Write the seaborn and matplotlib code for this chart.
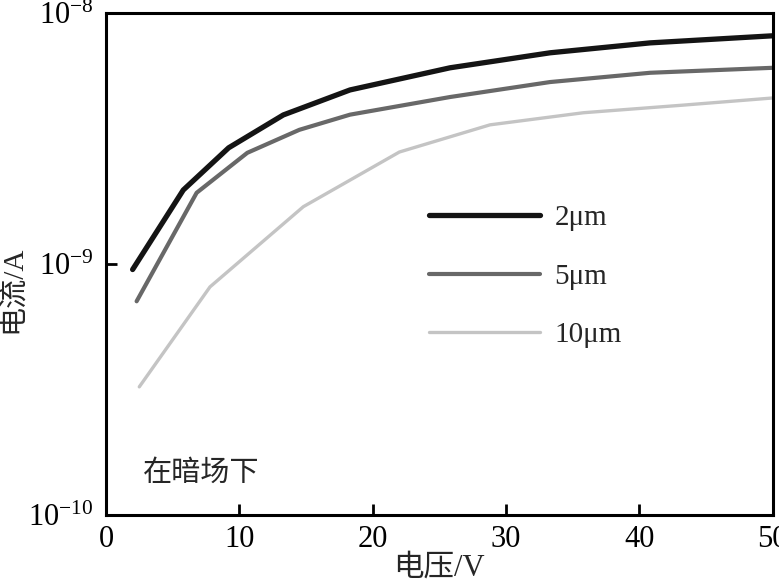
import numpy as np
import pandas as pd
import matplotlib
matplotlib.use("Agg")
import matplotlib.pyplot as plt
import seaborn as sns
from matplotlib.ticker import LogLocator, NullLocator, FixedLocator
from matplotlib.lines import Line2D

# ---- data ----
labels = ["2μm", "5μm", "10μm"]
v_2um = [2.0, 5.8, 9.2, 13.3, 18.3, 25.8, 33.3, 40.8, 50.0]
i_2um = [0.95e-9, 1.97e-9, 2.9e-9, 3.92e-9, 4.93e-9, 6.04e-9, 6.93e-9, 7.59e-9, 8.1e-9]
v_5um = [2.3, 6.8, 10.6, 14.5, 18.3, 25.8, 33.3, 40.8, 50.0]
i_5um = [0.71e-9, 1.92e-9, 2.77e-9, 3.42e-9, 3.93e-9, 4.62e-9, 5.3e-9, 5.77e-9, 6.04e-9]
v_10um = [2.5, 7.8, 14.8, 22.0, 28.8, 35.8, 43.3, 50.0]
i_10um = [0.324e-9, 0.81e-9, 1.69e-9, 2.79e-9, 3.58e-9, 4.0e-9, 4.29e-9, 4.58e-9]
x_ticks = [0, 10, 20, 30, 40, 50]
colors = ["#141414", "#686868", "#c4c4c4"]
widths = [3.8, 3.0, 2.4]

df = pd.concat([
    pd.DataFrame({"V": v_2um, "I": i_2um, "w": labels[0]}),
    pd.DataFrame({"V": v_5um, "I": i_5um, "w": labels[1]}),
    pd.DataFrame({"V": v_10um, "I": i_10um, "w": labels[2]}),
], ignore_index=True)

sns.set_style("ticks")
plt.rcParams["font.family"] = ["Liberation Serif", "Noto Sans CJK SC", "DejaVu Sans"]
plt.rcParams["mathtext.fontset"] = "custom"
plt.rcParams["mathtext.rm"] = "Liberation Serif"
plt.rcParams["mathtext.it"] = "Liberation Serif:italic"

fig = plt.figure(figsize=(7.79, 5.82), dpi=100)
ax = fig.add_axes([0.136, 0.115, 0.856, 0.863])

sns.lineplot(data=df, x="V", y="I", hue="w", palette=dict(zip(labels, colors)),
             sort=False, ax=ax, legend=False)
for line, lw in zip(ax.get_lines(), widths):
    line.set_linewidth(lw)
    line.set_solid_capstyle("round")
    line.set_solid_joinstyle("round")

ax.set_yscale("log")
ax.set_xlim(0, 50)
ax.set_ylim(1e-10, 1e-8)
ax.xaxis.set_major_locator(FixedLocator(x_ticks))
ax.yaxis.set_major_locator(LogLocator(base=10, numticks=5))
ax.yaxis.set_minor_locator(NullLocator())
ax.tick_params(direction="in", length=8, width=2, labelsize=22, pad=7,
               top=False, right=False, colors="black")
ax.tick_params(axis="y", pad=9)
for sp in ax.spines.values():
    sp.set_visible(True)
    sp.set_linewidth(2.2)
    sp.set_color("black")

ax.set_xlabel("电压/V", fontsize=22, labelpad=0,
              family=["Liberation Serif", "Noto Sans CJK SC"])
ax.set_ylabel("电流/A", fontsize=21,
              family=["Liberation Serif", "Noto Sans CJK SC"])
ax.yaxis.set_label_coords(-0.118, 0.45)

ax.text(0.055, 0.084, "在暗场下", transform=ax.transAxes, fontsize=21,
        va="center", ha="left", family=["Noto Sans CJK SC", "Liberation Serif"])

handles = [Line2D([0], [0], color=c, lw=lw, solid_capstyle="round")
           for c, lw in zip(colors, widths)]
leg = ax.legend(handles, labels, loc="upper left", bbox_to_anchor=(0.445, 0.67),
                frameon=False, fontsize=21, handlelength=3.8, handletextpad=0.5,
                labelspacing=1.1)

fig.savefig("out.png", dpi=100)
